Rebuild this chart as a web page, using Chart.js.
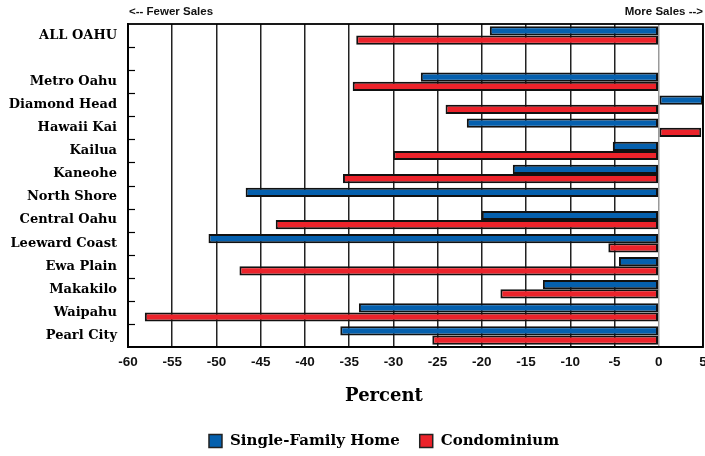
<!DOCTYPE html>
<html>
<head>
<meta charset="utf-8">
<script src="https://cdn.jsdelivr.net/npm/chart.js@4.4.1/dist/chart.umd.min.js"></script>
<style>
  html, body { margin: 0; padding: 0; background: #fff; }
  #wrap { width: 705px; height: 456px; overflow: hidden; position: relative; }
  #box { width: 768px; height: 456px; position: absolute; left: 0; top: 0; }
</style>
</head>
<body>
<div id="wrap"><div id="box"><canvas id="salesChart"></canvas></div></div>
<script>
// Change in sales by region, percent
var categories = [
  'ALL OAHU', '', 'Metro Oahu', 'Diamond Head', 'Hawaii Kai', 'Kailua', 'Kaneohe',
  'North Shore', 'Central Oahu', 'Leeward Coast', 'Ewa Plain', 'Makakilo', 'Waipahu', 'Pearl City'
];
var singleFamily = [-19.1, null, -26.9, 5.0, -21.7, -5.2, -16.5, -46.7, -20.0, -50.9, -4.5, -13.1, -33.9, -36.0];
var condominium = [-34.2, null, -34.6, -24.1, 4.8, -30.0, -35.7, 0.1, -43.3, -5.7, -47.4, -17.9, -58.1, -25.6];
var xMin = -60;
var xMax = 5;
var xStep = 5;

var BLUE = '#0560AE';
var RED = '#EC232B';
var SERIF = '"DejaVu Serif", serif';
var SANS = '"Liberation Sans", Arial, sans-serif';

// frame, inner category ticks, side notes, axis title and legend
var decorations = {
  id: 'decorations',
  afterDraw: function (chart) {
    var ctx = chart.ctx;
    var a = chart.chartArea;
    var y = chart.scales.y;
    ctx.save();

    ctx.strokeStyle = '#000';
    ctx.lineWidth = 1.8;
    ctx.strokeRect(a.left, a.top, a.right - a.left, a.bottom - a.top);

    ctx.lineWidth = 1.2;
    for (var i = 0; i < categories.length - 1; i++) {
      var yy = Math.round((y.getPixelForValue(i) + y.getPixelForValue(i + 1)) / 2) + 0.5;
      ctx.beginPath();
      ctx.moveTo(a.left, yy);
      ctx.lineTo(a.left + 7, yy);
      ctx.stroke();
    }

    ctx.fillStyle = '#111';
    ctx.font = 'bold 11.5px ' + SANS;
    ctx.textBaseline = 'middle';
    ctx.textAlign = 'left';
    ctx.fillText('<-- Fewer Sales', a.left + 1, 12);
    ctx.textAlign = 'right';
    ctx.fillText('More Sales -->', a.right, 12);

    ctx.fillStyle = '#000';
    ctx.font = 'bold 18px ' + SERIF;
    ctx.textAlign = 'center';
    ctx.fillText('Percent', 384, 396);

    // legend row, centred under the chart
    ctx.font = 'bold 15px ' + SERIF;
    var sets = chart.data.datasets;
    var box = 13, gap = 8, itemGap = 20;
    var total = 0;
    sets.forEach(function (d, k) {
      total += box + gap + ctx.measureText(d.label).width + (k ? itemGap : 0);
    });
    var x = 384 - total / 2;
    var ly = 441;
    ctx.textAlign = 'left';
    sets.forEach(function (d, k) {
      if (k) x += itemGap;
      ctx.fillStyle = d.backgroundColor;
      ctx.fillRect(x, ly - box / 2, box, box);
      ctx.lineWidth = 1.5;
      ctx.strokeStyle = '#222';
      ctx.strokeRect(x, ly - box / 2, box, box);
      x += box + gap;
      ctx.fillStyle = '#000';
      ctx.fillText(d.label, x, ly);
      x += ctx.measureText(d.label).width;
    });
    ctx.restore();
  }
};

new Chart(document.getElementById('salesChart'), {
  type: 'bar',
  data: {
    labels: categories,
    datasets: [
      {
        label: 'Single-Family Home', data: singleFamily, backgroundColor: BLUE,
        borderColor: '#111', borderWidth: 2, borderSkipped: false,
        categoryPercentage: 0.8, barPercentage: 1.0
      },
      {
        label: 'Condominium', data: condominium, backgroundColor: RED,
        borderColor: '#111', borderWidth: 2, borderSkipped: false,
        categoryPercentage: 0.8, barPercentage: 1.0
      }
    ]
  },
  options: {
    indexAxis: 'y',
    responsive: true,
    maintainAspectRatio: false,
    animation: false,
    layout: { padding: { top: 24, right: 65, bottom: 0, left: 0 } },
    plugins: {
      legend: { display: false },
      tooltip: { enabled: false }
    },
    scales: {
      x: {
        type: 'linear',
        min: xMin,
        max: xMax,
        afterFit: function (s) { s.height = 109; },
        ticks: {
          stepSize: xStep,
          padding: 7,
          color: '#111',
          font: { family: SANS, size: 13.5, weight: 'bold' }
        },
        grid: {
          drawTicks: false,
          color: function (c) { return c.tick && c.tick.value === 0 ? '#9a9a9a' : '#222'; },
          lineWidth: 1.5
        },
        border: { color: '#000', width: 1.8 }
      },
      y: {
        afterFit: function (s) { s.width = 128; },
        ticks: {
          padding: 11,
          color: '#000',
          autoSkip: false,
          font: { family: SERIF, size: 13, weight: 'bold' }
        },
        grid: { display: false, drawTicks: false },
        border: { color: '#000', width: 1.8 }
      }
    }
  },
  plugins: [decorations]
});
</script>
</body>
</html>
